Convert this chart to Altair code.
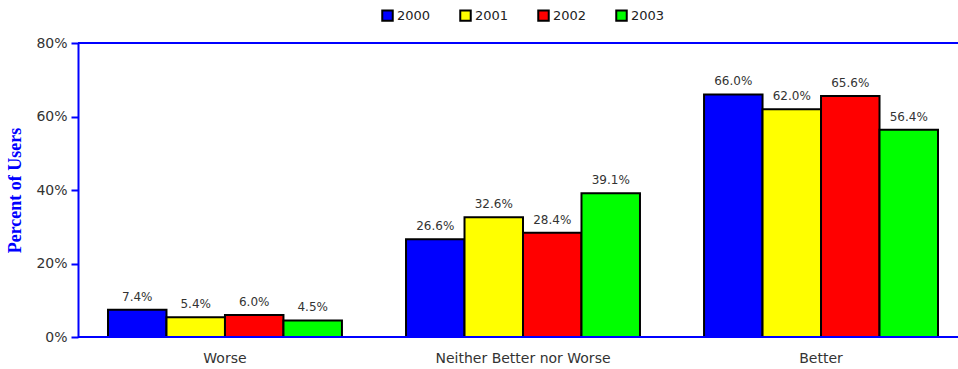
import altair as alt
import pandas as pd

# Survey responses by year
categories = ["Worse", "Neither Better nor Worse", "Better"]
years = ["2000", "2001", "2002", "2003"]
values_2000 = [7.4, 26.6, 66.0]
values_2001 = [5.4, 32.6, 62.0]
values_2002 = [6.0, 28.4, 65.6]
values_2003 = [4.5, 39.1, 56.4]
colors = ["#0000FF", "#FFFF00", "#FF0000", "#00FF00"]

rows = []
for year, vals in zip(years, [values_2000, values_2001, values_2002, values_2003]):
    for cat, v in zip(categories, vals):
        rows.append({"category": cat, "year": year, "value": v / 100.0,
                     "label": f"{v:.1f}%"})
df = pd.DataFrame(rows)

W, H = 880, 294
FONT = "DejaVu Sans"
BLUE = "#0000FF"

x_scale = alt.Scale(range=[30, 860], paddingInner=0.215, paddingOuter=0)
x_enc = alt.X("category:N", sort=categories, scale=x_scale,
              axis=alt.Axis(title=None, ticks=False, labelAngle=0, domain=False,
                            labelPadding=14, labelFontSize=14,
                            labelColor="#333333", labelFont=FONT))
y_scale = alt.Scale(domain=[0, 0.8])

bars = alt.Chart(df).mark_bar(stroke="black", strokeWidth=2).encode(
    x=x_enc,
    xOffset=alt.XOffset("year:N", sort=years),
    y=alt.Y("value:Q", scale=y_scale,
            axis=alt.Axis(format=".0%", values=[0, 0.2, 0.4, 0.6, 0.8],
                          title="Percent of Users", titleFont="Liberation Serif",
                          titleFontSize=18, titleFontWeight="bold",
                          titleColor=BLUE, titlePadding=11,
                          labelFontSize=14, labelColor="#333333", labelFont=FONT,
                          labelPadding=4, tickSize=7, tickColor=BLUE,
                          tickWidth=2, domainColor=BLUE, domainWidth=2,
                          grid=False)),
    color=alt.Color("year:N", sort=years,
                    scale=alt.Scale(domain=years, range=colors),
                    legend=alt.Legend(title=None, orient="none", direction="horizontal",
                                      legendX=303, legendY=-34,
                                      symbolType="square", symbolSize=110,
                                      symbolStrokeColor="black", symbolStrokeWidth=2,
                                      labelFontSize=13, labelFont=FONT,
                                      labelColor="#222222", labelOffset=3,
                                      columnPadding=25)),
)

text = alt.Chart(df).mark_text(baseline="bottom", dy=-6, fontSize=12,
                               font=FONT, color="#333333").encode(
    x=alt.X("category:N", sort=categories, scale=x_scale),
    xOffset=alt.XOffset("year:N", sort=years),
    y=alt.Y("value:Q", scale=y_scale),
    text="label:N",
)

# Blue frame lines along the top and bottom of the plot area
frame = alt.Chart(pd.DataFrame({"v": [0.0, 0.8]})).mark_rule(
    color=BLUE, strokeWidth=2).encode(
    y=alt.Y("v:Q", scale=y_scale), x=alt.value(0), x2=alt.value(W))

chart = alt.layer(bars, text, frame).properties(
    width=W, height=H,
    autosize=alt.AutoSizeParams(type="none"),
    padding={"left": 78, "top": 43, "right": 0, "bottom": 32},
).configure_view(stroke=None)

chart.save("out.html", embed_options={"renderer": "svg", "actions": False})
